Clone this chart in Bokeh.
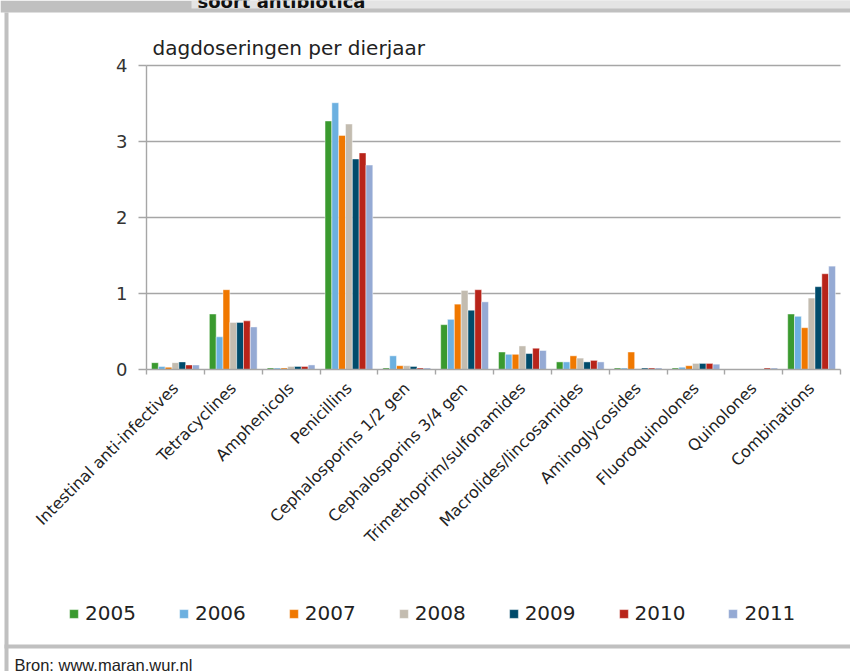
import numpy as np
from math import pi
from bokeh.plotting import figure
from bokeh.models import (FixedTicker, Legend, LegendItem, Label, BoxAnnotation,
                          ColumnDataSource, Range1d)
from bokeh.transform import dodge
from bokeh.embed import file_html
from bokeh.resources import INLINE

categories = ["Intestinal anti-infectives", "Tetracyclines", "Amphenicols", "Penicillins",
              "Cephalosporins 1/2 gen", "Cephalosporins 3/4 gen", "Trimethoprim/sulfonamides",
              "Macrolides/lincosamides", "Aminoglycosides", "Fluoroquinolones", "Quinolones",
              "Combinations"]
years = ["2005", "2006", "2007", "2008", "2009", "2010", "2011"]
v2005 = [0.09, 0.73, 0.02, 3.27, 0.02, 0.59, 0.23, 0.10, 0.02, 0.02, 0.00, 0.73]
v2006 = [0.04, 0.43, 0.02, 3.51, 0.18, 0.66, 0.20, 0.10, 0.02, 0.03, 0.00, 0.70]
v2007 = [0.03, 1.05, 0.02, 3.08, 0.05, 0.86, 0.20, 0.18, 0.23, 0.05, 0.00, 0.55]
v2008 = [0.09, 0.62, 0.04, 3.23, 0.05, 1.04, 0.31, 0.15, 0.01, 0.08, 0.00, 0.94]
v2009 = [0.10, 0.62, 0.04, 2.77, 0.04, 0.78, 0.21, 0.10, 0.02, 0.08, 0.00, 1.09]
v2010 = [0.06, 0.64, 0.04, 2.85, 0.02, 1.05, 0.28, 0.12, 0.02, 0.08, 0.02, 1.26]
v2011 = [0.06, 0.56, 0.06, 2.69, 0.02, 0.89, 0.25, 0.10, 0.02, 0.07, 0.02, 1.36]
series = [v2005, v2006, v2007, v2008, v2009, v2010, v2011]
colors = ["#3a9a2f", "#6cb0e0", "#f07800", "#c3bcb0", "#004b6b", "#b8241a", "#95aad4"]
y_ticks = [0, 1, 2, 3, 4]
y_max = 4

# page layout (pixels from the top-left of the page)
W, H = 850, 671
PL, PR, PT, PB = 146, 840, 65, 369      # plot area
GRAY = "#c0c0c0"
LINE = "#a6a6a6"

ncat = len(categories)
centers = [i + 0.5 for i in range(ncat)]
data = {"x": centers}
for y, s in zip(years, series):
    data[y] = s
src = ColumnDataSource(data)

# ranges chosen so that the data area lands on the plot area while the frame fills the canvas
xs = (PR - PL) / ncat
ys = (PB - PT) / y_max
x_range = Range1d(-PL / xs, ncat + (W - PR) / xs)
y_range = Range1d(-(H - PB) / ys, y_max + PT / ys)

p = figure(width=W, height=H, x_range=x_range, y_range=y_range,
           output_backend="svg", toolbar_location=None, min_border=0)
p.outline_line_color = None
p.background_fill_color = "white"
p.border_fill_color = "white"

# decorations in screen units (x from left, y upward from bottom of frame)
def box(x0, x1, y0, y1, color):
    p.add_layout(BoxAnnotation(left=x0, right=x1, top=H - y0, bottom=H - y1,
                               left_units="screen", right_units="screen",
                               top_units="screen", bottom_units="screen",
                               fill_color=color, fill_alpha=1, line_color=None,
                               level="underlay"))

box(0, W, 0, 12, GRAY)
box(191, W, 0, 8, "#e4e4e4")
box(4, 8, 12, H, GRAY)
box(4, W, 644, 648, GRAY)

p.xgrid.visible = False
p.ygrid.visible = False
p.segment(x0=0, x1=ncat, y0=y_ticks[1:], y1=y_ticks[1:], line_color=LINE, line_width=1.4)

bw = 0.118
renderers = []
for i, (y, c) in enumerate(zip(years, colors)):
    r = p.vbar(x=dodge("x", (i - 3) * bw, range=p.x_range), top=y, width=bw, source=src,
               fill_color=c, line_color="white", line_alpha=0.45, line_width=1)
    renderers.append(r)

ya = p.yaxis[0]
ya.fixed_location = 0
ya.bounds = (0, y_max)
ya.ticker = FixedTicker(ticks=y_ticks)
ya.axis_line_color = LINE
ya.axis_line_width = 1.4
ya.major_tick_line_color = LINE
ya.major_tick_line_width = 1.4
ya.major_tick_out = 8
ya.major_tick_in = 0
ya.minor_tick_line_color = None
ya.major_label_standoff = 11
ya.major_label_text_font = "DejaVu Sans"
ya.major_label_text_font_size = "18px"
ya.major_label_text_color = "#333333"

xa = p.xaxis[0]
xa.fixed_location = 0
xa.bounds = (0, ncat)
xa.ticker = FixedTicker(ticks=centers, minor_ticks=list(range(ncat + 1)))
xa.major_label_overrides = {c: name for c, name in zip(centers, categories)}
xa.axis_line_color = LINE
xa.axis_line_width = 1.4
xa.major_tick_line_color = None
xa.major_tick_out = 0
xa.major_tick_in = 0
xa.minor_tick_line_color = LINE
xa.minor_tick_line_width = 1.4
xa.minor_tick_out = 5
xa.minor_tick_in = 0
xa.major_label_orientation = pi / 4
xa.major_label_standoff = 11
xa.major_label_text_font = "DejaVu Sans"
xa.major_label_text_font_size = "16px"
xa.major_label_text_color = "#222222"

def label(x, y, text, font, size, style="normal", color="#222222"):
    p.add_layout(Label(x=x, y=H - y, x_units="screen", y_units="screen", text=text,
                       text_font=font, text_font_size=size, text_font_style=style,
                       text_color=color, text_baseline="alphabetic", text_align="left"))

label(197, 0.5, "soort antibiotica", "DejaVu Sans", "18px", "bold", "#111111")
label(152, 47.5, "dagdoseringen per dierjaar", "DejaVu Sans", "20px")
label(14, 664, "Bron: www.maran.wur.nl", "Liberation Sans", "16.5px")

legend = Legend(items=[LegendItem(label=y, renderers=[r]) for y, r in zip(years, renderers)],
                orientation="horizontal", location=(68, H - 625),
                glyph_width=11, glyph_height=11, label_standoff=6, spacing=42,
                padding=0, margin=0, border_line_color=None, background_fill_alpha=0,
                label_text_font="DejaVu Sans", label_text_font_size="20px",
                label_text_color="#222222")
p.add_layout(legend, "center")

open("out.html", "w").write(file_html(p, INLINE))
